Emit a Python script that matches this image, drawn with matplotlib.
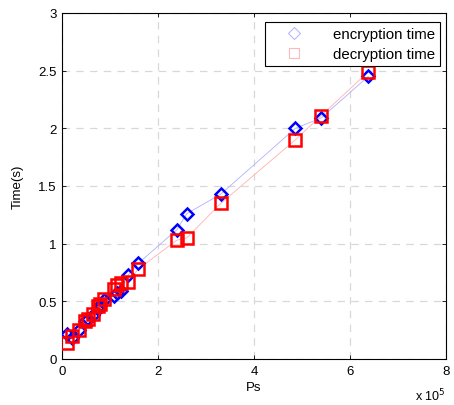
import matplotlib
matplotlib.use("Agg")
import matplotlib.pyplot as plt
from matplotlib.lines import Line2D

# Ps values (raw) and timing in seconds
ps = [10000, 20000, 35000, 47000, 55000, 65000, 74000, 80000, 87000, 108000,
      115000, 122000, 138000, 159000, 239000, 260000, 331000, 486000, 540000, 638000]
enc_time = [0.22, 0.18, 0.25, 0.33, 0.35, 0.38, 0.43, 0.47, 0.51, 0.55,
            0.57, 0.59, 0.73, 0.83, 1.12, 1.26, 1.43, 2.00, 2.09, 2.45]
dec_time = [0.14, 0.20, 0.25, 0.33, 0.35, 0.39, 0.46, 0.48, 0.52, 0.61,
            0.64, 0.66, 0.67, 0.78, 1.03, 1.05, 1.35, 1.90, 2.11, 2.49]

x_ticks = [0, 200000, 400000, 600000, 800000]
x_ticklabels = ["0", "2", "4", "6", "8"]
y_ticks = [0, 0.5, 1, 1.5, 2, 2.5, 3]
y_ticklabels = ["0", "0.5", "1", "1.5", "2", "2.5", "3"]

plt.rcParams['font.family'] = ['Liberation Sans', 'DejaVu Sans']

fig = plt.figure(figsize=(4.54, 4.06), dpi=100)
ax = fig.add_axes([62 / 454, 46 / 406, 384 / 454, 346 / 406])

# faint connecting lines
ax.plot(ps, enc_time, color='#b0b0ff', linewidth=0.6, zorder=2)
ax.plot(ps, dec_time, color='#ffb0b0', linewidth=0.6, zorder=2)

# strong markers
ax.plot(ps, enc_time, linestyle='none', marker='D', markersize=6.5,
        markerfacecolor='none', markeredgecolor='#0000ff', markeredgewidth=1.8, zorder=3)
ax.plot(ps, dec_time, linestyle='none', marker='s', markersize=8,
        markerfacecolor='none', markeredgecolor='#ff0000', markeredgewidth=1.8, zorder=3)

ax.set_xlim(0, 800000)
ax.set_ylim(0, 3)
ax.set_xticks(x_ticks)
ax.set_xticklabels(x_ticklabels)
ax.set_yticks(y_ticks)
ax.set_yticklabels(y_ticklabels)
ax.tick_params(direction='in', length=3, width=0.6, labelsize=9.5,
               top=True, right=True, pad=4)
ax.grid(True, color='#d8d8d8', linestyle=(0, (6, 5)), linewidth=0.9)
for s in ax.spines.values():
    s.set_linewidth(0.8)

ax.set_xlabel('Ps', fontsize=9.5, labelpad=3)
ax.set_ylabel('Time(s)', fontsize=9.5, labelpad=10)
ax.text(1.0, -0.105, r'x 10$^5$', transform=ax.transAxes, fontsize=9,
        ha='right', va='center')

handles = [
    Line2D([], [], linestyle='none', marker='D', markersize=6, markerfacecolor='none',
           markeredgecolor='#b8b8ff', markeredgewidth=0.8),
    Line2D([], [], linestyle='none', marker='s', markersize=7, markerfacecolor='none',
           markeredgecolor='#ffb8b8', markeredgewidth=0.8),
]
leg = ax.legend(handles, ['encryption time', 'decryption time'], loc='upper right',
                bbox_to_anchor=(0.985, 0.975), fontsize=10.8, fancybox=False,
                framealpha=1, edgecolor='black', handlelength=3.2,
                handletextpad=1.0, borderpad=0.35, labelspacing=0.4,
                borderaxespad=0.0)
leg.get_frame().set_linewidth(0.8)

fig.savefig('out.png', dpi=100)
